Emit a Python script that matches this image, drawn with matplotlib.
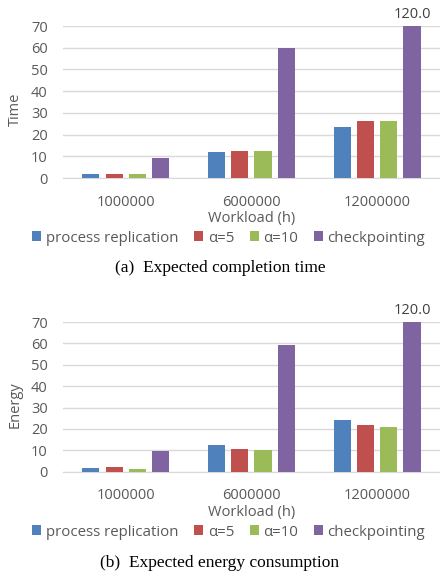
import numpy as np
import matplotlib
matplotlib.use("Agg")
from matplotlib import pyplot as plt
from matplotlib.patches import Patch

# ===================================================================
# Data
# ===================================================================
workloads = ["1000000", "6000000", "12000000"]
series_names = ["process replication", "\u03b1=5", "\u03b1=10", "checkpointing"]
series_colors = ["#4F81BD", "#C0504D", "#9BBB59", "#8064A2"]

time_replication = [1.8, 11.8, 23.6]
time_alpha5 = [1.8, 12.4, 26.2]
time_alpha10 = [1.8, 12.4, 26.2]
time_checkpoint = [9.4, 59.7, 120.0]

energy_replication = [1.9, 12.3, 24.2]
energy_alpha5 = [2.0, 10.6, 22.0]
energy_alpha10 = [1.4, 10.0, 21.1]
energy_checkpoint = [9.5, 59.4, 120.0]

Y_MAX = 70
TEXT_GRAY = "#595959"
FONT = "Open Sans"

plt.rcParams["font.family"] = [FONT, "DejaVu Sans"]


def draw_panel(fig, rect, series, ylabel, caption, caption_y, legend_y):
    ax = fig.add_axes(rect)
    x = np.arange(len(workloads))
    bar_w = 0.137
    step = 0.185
    for i, (vals, color) in enumerate(zip(series, series_colors)):
        offs = (i - 1.5) * step
        bars = ax.bar(x + offs, vals, width=bar_w, color=color, zorder=3)
        # values beyond the axis range get their number printed on top
        for b, v in zip(bars, vals):
            if v > Y_MAX:
                ax.annotate(f"{v:.1f}", xy=(b.get_x() + b.get_width() / 2, Y_MAX),
                            xytext=(0, 3), textcoords="offset points",
                            ha="center", va="bottom", fontsize=10.5,
                            color="#404040", annotation_clip=False)
    ax.set_xlim(-0.5, len(workloads) - 0.5)
    ax.set_ylim(0, Y_MAX)
    ax.set_yticks(range(0, Y_MAX + 1, 10))
    ax.set_xticks(x)
    ax.set_xticklabels(workloads)
    ax.tick_params(axis="both", length=0, labelsize=10.5, colors=TEXT_GRAY)
    ax.tick_params(axis="x", pad=12)
    ax.tick_params(axis="y", pad=11)
    ax.grid(axis="y", color="#D9D9D9", linewidth=1, zorder=0)
    for side in ["left", "right", "top"]:
        ax.spines[side].set_visible(False)
    ax.spines["bottom"].set_color("#D9D9D9")
    ax.set_ylabel(ylabel, fontsize=10.5, color=TEXT_GRAY)
    ax.yaxis.set_label_coords(-0.106, 0.45)
    ax.set_xlabel("Workload (h)", fontsize=10.5, color=TEXT_GRAY, labelpad=1)

    handles = [Patch(facecolor=c, edgecolor="none") for c in series_colors]
    fig.legend(handles, series_names, loc="center", bbox_to_anchor=(0.52, legend_y),
               ncol=4, frameon=False, fontsize=10.8, labelcolor=TEXT_GRAY,
               handlelength=0.6, handleheight=0.6, handletextpad=0.3,
               columnspacing=1.05, borderpad=0)
    fig.text(0.5, caption_y, caption, ha="center", va="center", fontsize=12.5,
             family="Liberation Serif", color="black")
    return ax


fig = plt.figure(figsize=(4.4, 5.86), dpi=100)

draw_panel(fig, [0.143, 0.6962, 0.857, 0.2594],
           [time_replication, time_alpha5, time_alpha10, time_checkpoint],
           "Time", "(a)  Expected completion time", 1 - 268 / 586, 1 - 238 / 586)
draw_panel(fig, [0.143, 0.195, 0.857, 0.2555],
           [energy_replication, energy_alpha5, energy_alpha10, energy_checkpoint],
           "Energy", "(b)  Expected energy consumption", 1 - 563 / 586, 1 - 532 / 586)

fig.savefig("out.png", dpi=100)
